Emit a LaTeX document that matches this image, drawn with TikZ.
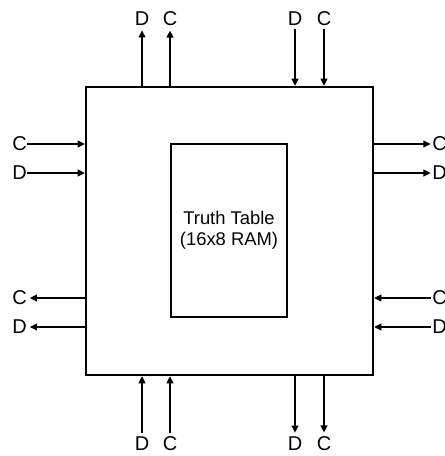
\documentclass[tikz,border=0pt]{standalone}
\usepackage{fontspec}
\setmainfont{Liberation Sans}
\usepackage{tikz}
\usetikzlibrary{arrows.meta}

\tikzset{
  block/.style={draw, line width=1.6pt, inner sep=0pt},
  pin/.style={inner sep=0pt, font=\fontsize{15}{17}\selectfont},
  sig/.style={line width=2.2pt, -{Triangle[length=5.5pt, width=5pt]}}
}

\begin{document}
\begin{tikzpicture}[x=0.75pt, y=-0.75pt]
  \useasboundingbox (0,0) rectangle (444,456);

  % ----- Blocks -----
  \node[block, minimum width=215.25pt, minimum height=216pt] (lut) at (229.5,231) {};
  \node[block, minimum width=87pt, minimum height=129.75pt, align=center,
        font=\fontsize{13.8}{15.75}\selectfont] (ram) at (229,230.5) {Truth Table\\(16x8 RAM)};

  % ----- Pin labels -----
  \node[pin] (tD1) at (142,19) {D};
  \node[pin] (tC1) at (170,19) {C};
  \node[pin] (tD2) at (295,19) {D};
  \node[pin] (tC2) at (324,19) {C};
  \node[pin] (bD1) at (142,444) {D};
  \node[pin] (bC1) at (170,444) {C};
  \node[pin] (bD2) at (295,444) {D};
  \node[pin] (bC2) at (324,444) {C};
  \node[pin] (lC1) at (19.5,144) {C};
  \node[pin] (lD1) at (19.5,173) {D};
  \node[pin] (lC2) at (19.5,298) {C};
  \node[pin] (lD2) at (19.5,327) {D};
  \node[pin] (rC1) at (439.5,144) {C};
  \node[pin] (rD1) at (439.5,173) {D};
  \node[pin] (rC2) at (439.5,298) {C};
  \node[pin] (rD2) at (439.5,327) {D};

  % ----- Top -----
  \draw[sig, shorten >=3pt] (tD1 |- lut.north) -- (tD1.south);
  \draw[sig, shorten >=3pt] (tC1 |- lut.north) -- (tC1.south);
  \draw[sig, shorten <=2pt] (tD2.south) -- (tD2 |- lut.north);
  \draw[sig, shorten <=2pt] (tC2.south) -- (tC2 |- lut.north);

  % ----- Bottom -----
  \draw[sig, shorten <=3pt] (bD1.north) -- (bD1 |- lut.south);
  \draw[sig, shorten <=3pt] (bC1.north) -- (bC1 |- lut.south);
  \draw[sig, shorten >=3pt] (bD2 |- lut.south) -- (bD2.north);
  \draw[sig, shorten >=3pt] (bC2 |- lut.south) -- (bC2.north);

  % ----- Left -----
  \draw[sig] (lC1.east) -- (lC1 -| lut.west);
  \draw[sig] (lD1.east) -- (lD1 -| lut.west);
  \draw[sig, shorten >=2pt] (lC2 -| lut.west) -- (lC2.east);
  \draw[sig, shorten >=2pt] (lD2 -| lut.west) -- (lD2.east);

  % ----- Right -----
  \draw[sig, shorten >=1pt] (rC1 -| lut.east) -- (rC1.west);
  \draw[sig, shorten >=1pt] (rD1 -| lut.east) -- (rD1.west);
  \draw[sig, shorten <=1pt] (rC2.west) -- (rC2 -| lut.east);
  \draw[sig, shorten <=1pt] (rD2.west) -- (rD2 -| lut.east);
\end{tikzpicture}
\end{document}
